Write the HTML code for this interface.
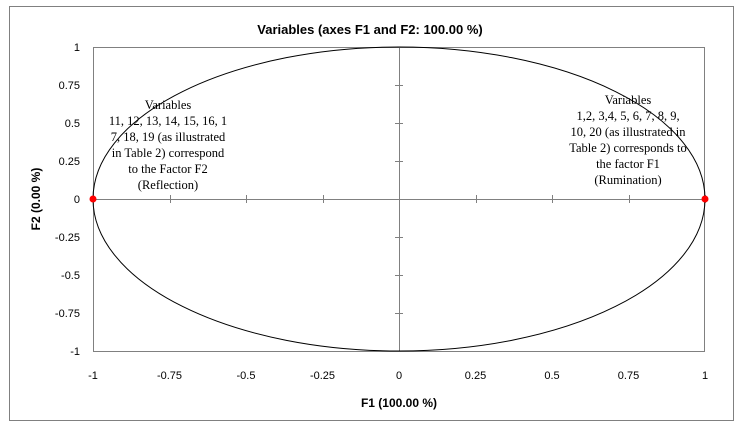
<!DOCTYPE html>
<html><head><meta charset="utf-8"><style>
body{margin:0;background:#fff;}
svg{display:block;font-family:"Liberation Sans",sans-serif;}
</style></head><body>
<svg id="c" width="740" height="425">
<rect x="9.5" y="6.5" width="724" height="414" fill="#fff" stroke="#808080"/>
<text x="370" y="34" text-anchor="middle" font-weight="bold" font-size="13">Variables (axes F1 and F2: 100.00 %)</text>
<rect x="93.5" y="47.5" width="611" height="304" fill="none" stroke="#808080"/>
<g id="ax"></g>
<text x="399" y="407" text-anchor="middle" font-weight="bold" font-size="12">F1 (100.00 %)</text>
<text transform="translate(40,199) rotate(-90)" text-anchor="middle" font-weight="bold" font-size="12">F2 (0.00 %)</text>
<g font-family="Liberation Serif, serif" font-size="12.5" text-anchor="middle">
<text x="168" y="109">Variables</text>
<text x="168" y="125">11, 12, 13, 14, 15, 16, 1</text>
<text x="168" y="141">7, 18, 19 (as illustrated</text>
<text x="168" y="157">in Table 2) correspond</text>
<text x="168" y="173">to the Factor F2</text>
<text x="168" y="189">(Reflection)</text>
</g>
<g font-family="Liberation Serif, serif" font-size="12.5" text-anchor="middle">
<text x="628" y="104">Variables</text>
<text x="628" y="120">1,2, 3,4, 5, 6, 7, 8, 9,</text>
<text x="628" y="136">10, 20 (as illustrated in</text>
<text x="628" y="152">Table 2) corresponds to</text>
<text x="628" y="168">the factor  F1</text>
<text x="628" y="184">(Rumination)</text>
</g>
</svg>
<script>
const xTicks=[-1,-0.75,-0.5,-0.25,0,0.25,0.5,0.75,1];
const yTicks=[1,0.75,0.5,0.25,0,-0.25,-0.5,-0.75,-1];
const pointsX=[-1,1];
const pointsY=[0,0];
const X=v=>399+v*306, Y=v=>199-v*152;
const ns="http://www.w3.org/2000/svg", g=document.getElementById('ax');
function mk(t,a){const e=document.createElementNS(ns,t);for(const k in a)e.setAttribute(k,a[k]);g.appendChild(e);return e;}
let l=mk('line',{x1:X(-1),x2:X(1),y1:Y(0)+.5,y2:Y(0)+.5,stroke:'#808080'});

l=mk('line',{x1:X(0)+.5,x2:X(0)+.5,y1:Y(1),y2:Y(-1),stroke:'#808080'});

xTicks.forEach(v=>{
 const t=mk('line',{x1:Math.round(X(v))+.5,x2:Math.round(X(v))+.5,y1:Y(0)-4,y2:Y(0)+4,stroke:'#808080'});
 
 const s=mk('text',{x:X(v),y:379,'text-anchor':'middle','font-size':'11'});s.textContent=v;
 
});
yTicks.forEach(v=>{
 const t=mk('line',{x1:X(0)-4,x2:X(0)+4,y1:Math.round(Y(v))+.5,y2:Math.round(Y(v))+.5,stroke:'#808080'});
 
 const s=mk('text',{x:80,y:Y(v)+4,'text-anchor':'end','font-size':'11'});s.textContent=v;
 
});
const c=mk('ellipse',{cx:X(0),cy:Y(0),rx:X(1)-X(0),ry:Y(0)-Y(1),fill:'none',stroke:'#000','stroke-width':1});

pointsX.forEach((v,i)=>{
 const p=mk('circle',{cx:X(v),cy:Y(pointsY[i]),r:3.5,fill:'#ff0000'});
 
});
</script>
</body></html>
